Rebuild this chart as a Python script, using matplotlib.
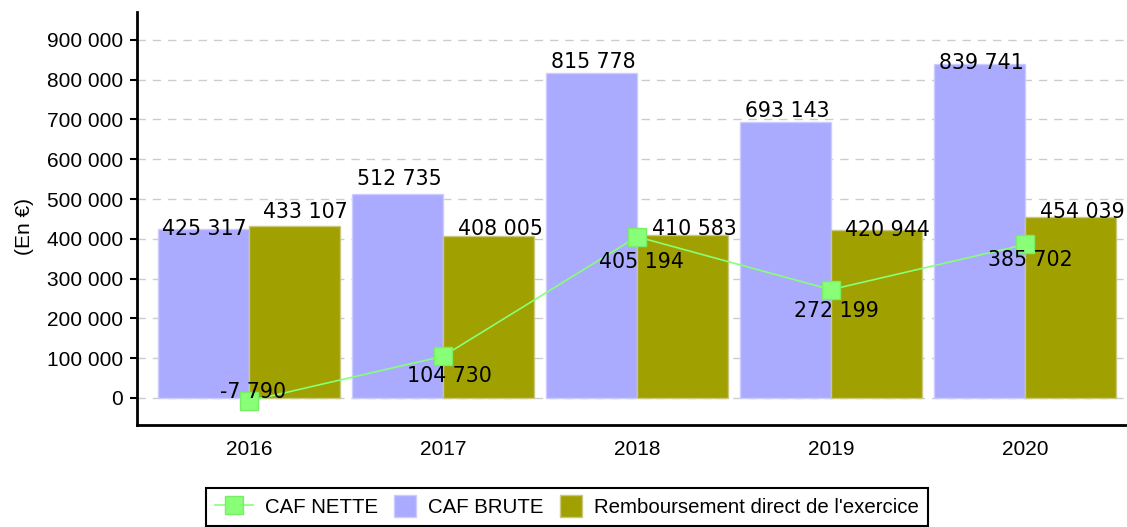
import numpy as np
import matplotlib
matplotlib.use('Agg')
import matplotlib.pyplot as plt
from matplotlib.patches import Rectangle
from matplotlib.legend_handler import HandlerPatch
from matplotlib.ticker import FuncFormatter

years = ['2016', '2017', '2018', '2019', '2020']
caf_brute = [425317, 512735, 815778, 693143, 839741]
remboursement = [433107, 408005, 410583, 420944, 454039]
caf_nette = [-7790, 104730, 405194, 272199, 385702]

# label offsets in pixels (dx, dy)
off_brute = [(1, 0), (2, 15), (2, 11), (2, 11), (2, 1)]
off_remb = [(11, 14), (12, 7), (12, 6), (11, 0), (12, 5)]
off_nette = [(4, 9), (6, -20), (4, -25), (5, -21), (5, -16)]

def fmt(v):
    s = '{:,}'.format(abs(int(v))).replace(',', ' ')
    return '-' + s if v < 0 else s

fig = plt.figure(figsize=(11.27, 5.27), dpi=100)
ax = fig.add_axes([137/1127, 1 - 425/527, 1 - 137/1127, (425 - 12)/527])

x = np.arange(len(years))
w = 0.469
ax.bar(x - w/2, caf_brute, w, color='#aaaaff', edgecolor='#ccccff', linewidth=1, zorder=2)
ax.bar(x + w/2, remboursement, w, color='#a0a000', edgecolor='#c8c880', linewidth=1, zorder=2)
ln, = ax.plot(x, caf_nette, color='#88ff77', linewidth=1.2, marker='s', markersize=13,
              markerfacecolor='#88ff77', markeredgecolor='#77ee66', zorder=4, label='CAF NETTE')

lab_font = dict(family='DejaVu Sans', size=14.8, color='black', zorder=5)
for i in range(len(years)):
    ax.annotate(fmt(caf_brute[i]), (x[i] - w/2, caf_brute[i]), xytext=off_brute[i],
                textcoords='offset pixels', ha='center', va='center', **lab_font)
    ax.annotate(fmt(remboursement[i]), (x[i] + w/2, remboursement[i]), xytext=off_remb[i],
                textcoords='offset pixels', ha='center', va='center', **lab_font)
    ax.annotate(fmt(caf_nette[i]), (x[i], caf_nette[i]), xytext=off_nette[i],
                textcoords='offset pixels', ha='center', va='center', **lab_font)

ax.set_xlim(-0.577, 4.526)
ax.set_ylim(-68000, 970000)
ax.set_yticks(np.arange(0, 900001, 100000))
ax.yaxis.set_major_formatter(FuncFormatter(lambda v, p: fmt(v)))
ax.set_xticks(x)
ax.set_xticklabels(years)
ax.grid(axis='y', color='#cccccc', linestyle=(0, (6, 5)), linewidth=1, zorder=0)
ax.set_axisbelow(True)

for s in ['top', 'right']:
    ax.spines[s].set_visible(False)
ax.spines['left'].set_linewidth(2)
ax.spines['bottom'].set_linewidth(2)
ax.tick_params(axis='y', direction='out', length=5, width=1.5, pad=5)
ax.tick_params(axis='x', length=0, pad=11)
for t in ax.get_xticklabels() + ax.get_yticklabels():
    t.set_fontfamily('Liberation Sans')
    t.set_fontsize(15)

fig.text(24/1127, 1 - 227/527, '(En €)', rotation=90, ha='center', va='center',
         family='Liberation Sans', fontsize=15)

# legend: patches drawn as squares at the right end of the handle box
p1 = Rectangle((0, 0), 1, 1, facecolor='#aaaaff', edgecolor='#ccccff', label='CAF BRUTE')
p2 = Rectangle((0, 0), 1, 1, facecolor='#a0a000', edgecolor='#c8c880',
               label="Remboursement direct de l'exercice")

def square_patch(legend, orig_handle, xdescent, ydescent, width, height, fontsize):
    side = 22 * 72 / 100
    return Rectangle((width - side - xdescent, -ydescent + (height - side)/2), side, side)

leg = fig.legend(handles=[ln, p1, p2], loc='upper center', bbox_to_anchor=(567/1127, 1 - 488/527),
                 ncol=3, frameon=True, fancybox=False, framealpha=1, edgecolor='black',
                 prop={'family': 'Liberation Sans', 'size': 14.7}, handlelength=1.86,
                 handleheight=1.0, handletextpad=0.59, columnspacing=0.0, borderpad=0.44,
                 borderaxespad=0,
                 handler_map={Rectangle: HandlerPatch(patch_func=square_patch)})
leg.get_frame().set_linewidth(1.5)

fig.savefig('out.png', dpi=100)
